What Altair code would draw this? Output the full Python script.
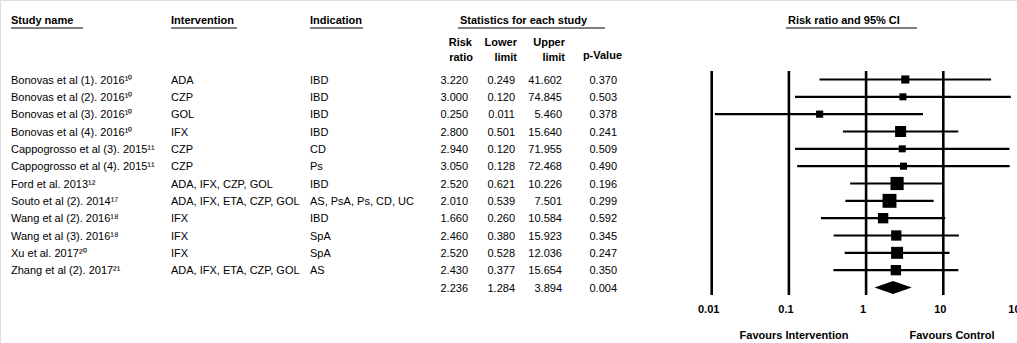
import altair as alt
import pandas as pd

# ---- study data -------------------------------------------------------------
studies = [
    "Bonovas et al (1). 2016¹⁰",
    "Bonovas et al (2). 2016¹⁰",
    "Bonovas et al (3). 2016¹⁰",
    "Bonovas et al (4). 2016¹⁰",
    "Cappogrosso et al (3). 2015¹¹",
    "Cappogrosso et al (4). 2015¹¹",
    "Ford et al. 2013¹²",
    "Souto et al (2). 2014¹⁷",
    "Wang et al (2). 2016¹⁸",
    "Wang et al (3). 2016¹⁸",
    "Xu et al. 2017²⁰",
    "Zhang et al (2). 2017²¹",
]
interventions = ["ADA", "CZP", "GOL", "IFX", "CZP", "CZP",
                 "ADA, IFX, CZP, GOL", "ADA, IFX, ETA, CZP, GOL",
                 "IFX", "IFX", "IFX", "ADA, IFX, ETA, CZP, GOL"]
indications = ["IBD", "IBD", "IBD", "IBD", "CD", "Ps", "IBD",
               "AS, PsA, Ps, CD, UC", "IBD", "SpA", "SpA", "AS"]
risk_ratio = [3.220, 3.000, 0.250, 2.800, 2.940, 3.050, 2.520, 2.010, 1.660, 2.460, 2.520, 2.430]
lower_limit = [0.249, 0.120, 0.011, 0.501, 0.120, 0.128, 0.621, 0.539, 0.260, 0.380, 0.528, 0.377]
upper_limit = [41.602, 74.845, 5.460, 15.640, 71.955, 72.468, 10.226, 7.501, 10.584, 15.923, 12.036, 15.654]
p_values = [0.370, 0.503, 0.378, 0.241, 0.509, 0.490, 0.196, 0.299, 0.592, 0.345, 0.247, 0.350]
rel_weight = [4.7, 3.0, 3.2, 10.4, 3.0, 3.1, 15.7, 17.8, 9.0, 8.8, 12.6, 8.9]

# pooled estimate
pooled_rr = 2.236
pooled_lower = 1.284
pooled_upper = 3.894
pooled_p = 0.004

tick_values = [0.01, 0.1, 1, 10, 100]
tick_labels = ["0.01", "0.1", "1", "10", "100"]

# ---- tables ----------------------------------------------------------------
n = len(studies)
df = pd.DataFrame({
    "row": list(range(1, n + 1)),
    "study": studies,
    "intervention": interventions,
    "indication": indications,
    "rr": risk_ratio,
    "lo": lower_limit,
    "hi": upper_limit,
    "p": p_values,
    "w": rel_weight,
})
summary_row = n + 1
df_all = pd.concat([
    df,
    pd.DataFrame({"row": [summary_row], "study": [""], "intervention": [""],
                  "indication": [""], "rr": [pooled_rr], "lo": [pooled_lower],
                  "hi": [pooled_upper], "p": [pooled_p], "w": [0.0]}),
], ignore_index=True)

half_h = 0.37
diamond = pd.DataFrame({
    "x": [pooled_lower, pooled_rr, pooled_upper],
    "y": [summary_row, summary_row - half_h, summary_row],
    "y2": [summary_row, summary_row + half_h, summary_row],
})
ticks_df = pd.DataFrame({"t": tick_values, "label": tick_labels})

FONT = "Liberation Sans"
FS = 11

y_scale = alt.Scale(domain=[1, summary_row], range=[79.5, 287.5])
x_scale = alt.Scale(type="log", domain=[0.01, 100], range=[711.7, 1020.5])
Y = alt.Y("row:Q", scale=y_scale, axis=None)

layers = []


def label(text, x, y, align="left", bold=True):
    return alt.Chart(pd.DataFrame({"s": [text]})).mark_text(
        align=align, baseline="middle", font=FONT, fontSize=FS,
        fontWeight="bold" if bold else "normal", color="black",
    ).encode(x=alt.value(x), y=alt.value(y), text="s:N")


def underline(x1, x2, y):
    return alt.Chart(pd.DataFrame({"a": [0]})).mark_rule(
        color="black", strokeWidth=1.2
    ).encode(x=alt.value(x1), x2=alt.value(x2), y=alt.value(y))


# column headers
layers += [
    label("Study name", 11, 21), underline(11, 83, 28),
    label("Intervention", 171, 21), underline(171, 237, 28),
    label("Indication", 310, 21), underline(310, 363, 28),
    label("Statistics for each study", 460, 21), underline(458, 605, 28),
    label("Risk ratio and 95% CI", 788, 21), underline(786, 917, 28),
    label("Risk", 472, 43, "right"), label("ratio", 473, 58, "right"),
    label("Lower", 517, 43, "right"), label("limit", 517, 58, "right"),
    label("Upper", 565, 43, "right"), label("limit", 565, 58, "right"),
    label("p-Value", 622, 56, "right"),
]


def column(field, x, align="left", fmt=None):
    txt = alt.Text(f"{field}:Q", format=fmt) if fmt else alt.Text(f"{field}:N")
    return alt.Chart(df_all).mark_text(
        align=align, baseline="middle", font=FONT, fontSize=FS, color="black", dy=1
    ).encode(x=alt.value(x), y=Y, text=txt)


layers += [
    column("study", 11),
    column("intervention", 171),
    column("indication", 310),
    column("rr", 468, "right", ".3f"),
    column("lo", 515, "right", ".3f"),
    column("hi", 562, "right", ".3f"),
    column("p", 617, "right", ".3f"),
]

# forest plot: reference lines, tick labels, CIs, boxes, pooled diamond
layers.append(
    alt.Chart(ticks_df).mark_rule(color="black", strokeWidth=2.6).encode(
        x=alt.X("t:Q", scale=x_scale, axis=None),
        y=alt.value(71), y2=alt.value(295),
    )
)
layers.append(
    alt.Chart(ticks_df).mark_text(
        font=FONT, fontSize=FS, fontWeight="bold", baseline="middle", dx=-3, color="black"
    ).encode(
        x=alt.X("t:Q", scale=x_scale, axis=None),
        y=alt.value(310), text="label:N",
    )
)
layers.append(
    alt.Chart(df).mark_rule(color="black", strokeWidth=2.2).encode(
        x=alt.X("lo:Q", scale=x_scale, axis=None), x2="hi:Q", y=Y,
    )
)
layers.append(
    alt.Chart(df).mark_square(color="black", filled=True, opacity=1).encode(
        x=alt.X("rr:Q", scale=x_scale, axis=None), y=Y,
        size=alt.Size("w:Q", scale=alt.Scale(domain=[0, 18], range=[20, 196]), legend=None),
    )
)
layers.append(
    alt.Chart(diamond).mark_area(color="black", orient="vertical", opacity=1).encode(
        x=alt.X("x:Q", scale=x_scale, axis=None),
        y=alt.Y("y:Q", scale=y_scale, axis=None), y2="y2:Q",
    )
)

layers += [
    label("Favours Intervention", 794, 336, "center"),
    label("Favours Control", 952, 336, "center"),
]

chart = alt.layer(*layers).properties(
    width=1017, height=343,
    autosize=alt.AutoSizeParams(type="none"),
    padding=0,
).configure_view(stroke=None).configure(background="white")

chart.save("out.html", embed_options={"renderer": "svg", "actions": False})
